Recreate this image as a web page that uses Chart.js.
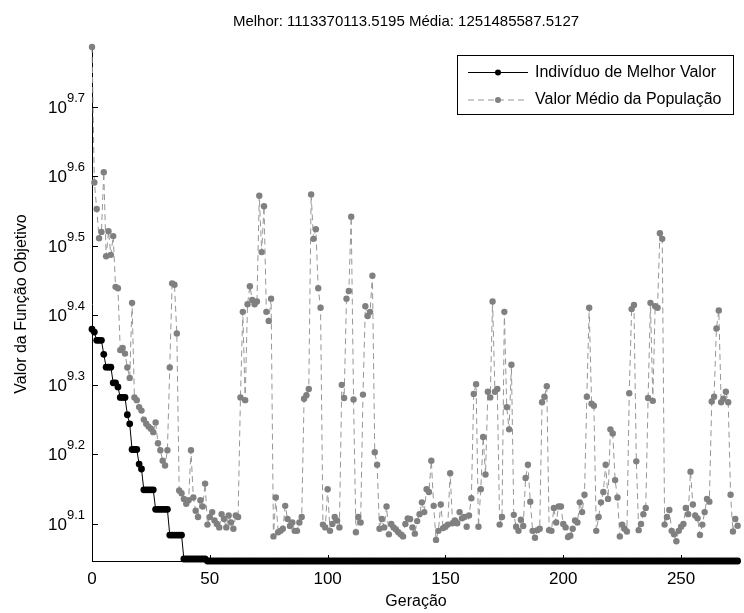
<!DOCTYPE html>
<html lang="pt">
<head>
<meta charset="utf-8">
<title>Evolução do AG</title>
<style>
  html, body { margin: 0; padding: 0; background: #ffffff; overflow: hidden; }
  #quadro { position: relative; width: 744px; height: 613px; }
</style>
<script src="https://cdn.jsdelivr.net/npm/chart.js@4.4.1/dist/chart.umd.min.js"></script>
</head>
<body>
<div id="quadro"><canvas id="grafico" width="744" height="613"></canvas></div>
<script>
// Valores finais informados no título
const melhorFinal = 1113370113.5195;
const mediaFinal = 1251485587.5127;

// log10 do valor da função objetivo do melhor indivíduo, por geração (0..274)
const expMelhor = [
  9.380, 9.376, 9.364, 9.364, 9.364, 9.344, 9.3255, 9.3255, 9.3255, 9.303,
  9.303, 9.297, 9.282, 9.282, 9.282, 9.257, 9.244, 9.207, 9.207, 9.207,
  9.186, 9.179, 9.149, 9.149, 9.149, 9.149, 9.149, 9.121, 9.121, 9.121,
  9.121, 9.121, 9.121, 9.084, 9.084, 9.084, 9.084, 9.084, 9.084, 9.0495,
  9.0495, 9.0495, 9.0495, 9.0495, 9.0495, 9.0495, 9.0495, 9.0495, 9.0495, 9.04664,
  9.04664, 9.04664, 9.04664, 9.04664, 9.04664, 9.04664, 9.04664, 9.04664, 9.04664, 9.04664,
  9.04664, 9.04664, 9.04664, 9.04664, 9.04664, 9.04664, 9.04664, 9.04664, 9.04664, 9.04664,
  9.04664, 9.04664, 9.04664, 9.04664, 9.04664, 9.04664, 9.04664, 9.04664, 9.04664, 9.04664,
  9.04664, 9.04664, 9.04664, 9.04664, 9.04664, 9.04664, 9.04664, 9.04664, 9.04664, 9.04664,
  9.04664, 9.04664, 9.04664, 9.04664, 9.04664, 9.04664, 9.04664, 9.04664, 9.04664, 9.04664,
  9.04664, 9.04664, 9.04664, 9.04664, 9.04664, 9.04664, 9.04664, 9.04664, 9.04664, 9.04664,
  9.04664, 9.04664, 9.04664, 9.04664, 9.04664, 9.04664, 9.04664, 9.04664, 9.04664, 9.04664,
  9.04664, 9.04664, 9.04664, 9.04664, 9.04664, 9.04664, 9.04664, 9.04664, 9.04664, 9.04664,
  9.04664, 9.04664, 9.04664, 9.04664, 9.04664, 9.04664, 9.04664, 9.04664, 9.04664, 9.04664,
  9.04664, 9.04664, 9.04664, 9.04664, 9.04664, 9.04664, 9.04664, 9.04664, 9.04664, 9.04664,
  9.04664, 9.04664, 9.04664, 9.04664, 9.04664, 9.04664, 9.04664, 9.04664, 9.04664, 9.04664,
  9.04664, 9.04664, 9.04664, 9.04664, 9.04664, 9.04664, 9.04664, 9.04664, 9.04664, 9.04664,
  9.04664, 9.04664, 9.04664, 9.04664, 9.04664, 9.04664, 9.04664, 9.04664, 9.04664, 9.04664,
  9.04664, 9.04664, 9.04664, 9.04664, 9.04664, 9.04664, 9.04664, 9.04664, 9.04664, 9.04664,
  9.04664, 9.04664, 9.04664, 9.04664, 9.04664, 9.04664, 9.04664, 9.04664, 9.04664, 9.04664,
  9.04664, 9.04664, 9.04664, 9.04664, 9.04664, 9.04664, 9.04664, 9.04664, 9.04664, 9.04664,
  9.04664, 9.04664, 9.04664, 9.04664, 9.04664, 9.04664, 9.04664, 9.04664, 9.04664, 9.04664,
  9.04664, 9.04664, 9.04664, 9.04664, 9.04664, 9.04664, 9.04664, 9.04664, 9.04664, 9.04664,
  9.04664, 9.04664, 9.04664, 9.04664, 9.04664, 9.04664, 9.04664, 9.04664, 9.04664, 9.04664,
  9.04664, 9.04664, 9.04664, 9.04664, 9.04664, 9.04664, 9.04664, 9.04664, 9.04664, 9.04664,
  9.04664, 9.04664, 9.04664, 9.04664, 9.04664, 9.04664, 9.04664, 9.04664, 9.04664, 9.04664,
  9.04664, 9.04664, 9.04664, 9.04664, 9.04664, 9.04664, 9.04664, 9.04664, 9.04664, 9.04664,
  9.04664, 9.04664, 9.04664, 9.04664, 9.04664
];

// log10 do valor médio da população, por geração (0..274)
const expMedia = [
  9.786, 9.591, 9.553, 9.511, 9.520, 9.606, 9.485, 9.521, 9.487, 9.514,
  9.441, 9.439, 9.350, 9.353, 9.345, 9.325, 9.310, 9.418, 9.282, 9.278,
  9.268, 9.263, 9.250, 9.244, 9.240, 9.237, 9.232, 9.246, 9.216, 9.206,
  9.191, 9.184, 9.206, 9.325, 9.446, 9.444, 9.374, 9.148, 9.144, 9.136,
  9.129, 9.134, 9.206, 9.138, 9.119, 9.110, 9.134, 9.125, 9.158, 9.099,
  9.110, 9.117, 9.105, 9.100, 9.095, 9.114, 9.107, 9.095, 9.112, 9.102,
  9.093, 9.112, 9.110, 9.282, 9.405, 9.278, 9.416, 9.442, 9.422, 9.416,
  9.420, 9.572, 9.491, 9.557, 9.405, 9.392, 9.424, 9.082, 9.138, 9.088,
  9.090, 9.093, 9.126, 9.107, 9.097, 9.102, 9.090, 9.090, 9.102, 9.110,
  9.280, 9.285, 9.294, 9.574, 9.510, 9.524, 9.439, 9.411, 9.099, 9.095,
  9.150, 9.090, 9.100, 9.110, 9.105, 9.095, 9.300, 9.281, 9.424, 9.435,
  9.542, 9.279, 9.088, 9.110, 9.102, 9.286, 9.413, 9.399, 9.405, 9.457,
  9.203, 9.185, 9.093, 9.107, 9.095, 9.125, 9.085, 9.100, 9.095, 9.092,
  9.088, 9.085, 9.082, 9.100, 9.108, 9.107, 9.095, 9.086, 9.104, 9.114,
  9.131, 9.117, 9.150, 9.146, 9.191, 9.126, 9.077, 9.090, 9.128, 9.094,
  9.096, 9.099, 9.173, 9.101, 9.105, 9.101, 9.117, 9.108, 9.110, 9.096,
  9.112, 9.137, 9.287, 9.301, 9.096, 9.150, 9.225, 9.171, 9.290, 9.282,
  9.420, 9.290, 9.294, 9.099, 9.110, 9.405, 9.268, 9.236, 9.329, 9.113,
  9.096, 9.090, 9.106, 9.097, 9.166, 9.185, 9.132, 9.090, 9.080, 9.091,
  9.093, 9.275, 9.283, 9.298, 9.091, 9.090, 9.123, 9.102, 9.125, 9.125,
  9.100, 9.095, 9.081, 9.083, 9.093, 9.105, 9.102, 9.131, 9.117, 9.142,
  9.283, 9.411, 9.273, 9.270, 9.090, 9.110, 9.131, 9.146, 9.185, 9.136,
  9.236, 9.230, 9.163, 9.138, 9.082, 9.099, 9.093, 9.089, 9.288, 9.409,
  9.415, 9.190, 9.091, 9.100, 9.114, 9.123, 9.281, 9.418, 9.277, 9.413,
  9.411, 9.518, 9.510, 9.099, 9.110, 9.120, 9.090, 9.085, 9.075, 9.090,
  9.096, 9.100, 9.123, 9.114, 9.175, 9.128, 9.112, 9.108, 9.084, 9.099,
  9.117, 9.136, 9.132, 9.276, 9.283, 9.381, 9.407, 9.275, 9.280, 9.290,
  9.275, 9.142, 9.089, 9.107, 9.09743
];

// Marcas dos eixos
const ticksX = [0, 50, 100, 150, 200, 250];
const ticksExpY = [9.1, 9.2, 9.3, 9.4, 9.5, 9.6, 9.7];
const limiteX = 275;

const nomeMelhor = 'Indivíduo de Melhor Valor';
const nomeMedia = 'Valor Médio da População';
const rotuloX = 'Geração';
const rotuloY = 'Valor da Função Objetivo';
const titulo = 'Melhor: ' + melhorFinal.toFixed(4) + ' Média: ' + mediaFinal.toFixed(4);

const FONTE = '"Liberation Sans", Arial, Helvetica, sans-serif';
const CINZA = 'rgb(128,128,128)';

const pontosMelhor = expMelhor.map((e, g) => ({ x: g, y: Math.pow(10, e) }));
const pontosMedia = expMedia.map((e, g) => ({ x: g, y: Math.pow(10, e) }));

const yMin = Math.min(...pontosMelhor.map(p => p.y), ...pontosMedia.map(p => p.y));
const yMax = Math.max(...pontosMelhor.map(p => p.y), ...pontosMedia.map(p => p.y));

// Os eixos não reservam espaço: rótulos e marcas são desenhados pelo plugin
function semEspaco(scale) {
  scale.paddingLeft = 0; scale.paddingRight = 0;
  scale.paddingTop = 0; scale.paddingBottom = 0;
  if (scale.isHorizontal()) scale.height = 0; else scale.width = 0;
}

// Eixos no estilo MATLAB: marcas para dentro, rótulos 10^x, títulos e legenda interna
const eixosEstilo = {
  id: 'eixosEstilo',
  afterDraw(chart) {
    const { ctx, chartArea: a, scales: { x, y } } = chart;
    ctx.save();
    ctx.strokeStyle = '#000';
    ctx.lineWidth = 1;
    ctx.beginPath();
    ticksX.forEach(v => {
      const px = Math.round(x.getPixelForValue(v)) + 0.5;
      ctx.moveTo(px, a.bottom);
      ctx.lineTo(px, a.bottom - 6);
    });
    ticksExpY.forEach(e => {
      const py = Math.round(y.getPixelForValue(Math.pow(10, e))) + 0.5;
      ctx.moveTo(a.left, py);
      ctx.lineTo(a.left + 6, py);
    });
    ctx.stroke();

    ctx.fillStyle = '#000';
    // rótulos do eixo x
    ctx.font = '17px ' + FONTE;
    ctx.textAlign = 'center';
    ctx.textBaseline = 'alphabetic';
    ticksX.forEach(v => {
      ctx.fillText(String(v), x.getPixelForValue(v), a.bottom + 23);
    });

    // rótulos do eixo y: 10 com expoente sobrescrito
    ticksExpY.forEach(e => {
      const py = y.getPixelForValue(Math.pow(10, e));
      const exp = e.toFixed(1);
      ctx.font = '13px ' + FONTE;
      const wExp = ctx.measureText(exp).width;
      const xExp = a.left - 7 - wExp;
      ctx.textAlign = 'left';
      ctx.fillText(exp, xExp, py - 5);
      ctx.font = '17px ' + FONTE;
      ctx.textAlign = 'right';
      ctx.fillText('10', xExp, py + 6);
    });

    // título e rótulos dos eixos
    const cx = (a.left + a.right) / 2;
    ctx.font = '15px ' + FONTE;
    ctx.textAlign = 'center';
    ctx.fillText(titulo, cx - 10, 26);
    ctx.font = '16px ' + FONTE;
    ctx.fillText(rotuloX, cx, 606);
    ctx.save();
    ctx.font = '16px ' + FONTE;
    ctx.translate(22, (a.top + a.bottom) / 2);
    ctx.rotate(-Math.PI / 2);
    ctx.textBaseline = 'middle';
    ctx.fillText(rotuloY, 0, 0);
    ctx.restore();

    // legenda
    const lx = a.right - 283, ly = a.top + 8, lw = 276, lh = 59;
    ctx.fillStyle = '#fff';
    ctx.fillRect(lx, ly, lw, lh);
    ctx.strokeStyle = '#000';
    ctx.lineWidth = 1;
    ctx.strokeRect(Math.round(lx) + 0.5, Math.round(ly) + 0.5, lw, lh);

    const linhas = [
      { nome: nomeMelhor, cor: '#000', corLinha: '#000', dash: [], dy: 17.5 },
      { nome: nomeMedia, cor: CINZA, corLinha: 'rgb(150,150,150)', dash: [6, 4], dy: 45 }
    ];
    linhas.forEach(l => {
      const yy = ly + l.dy;
      ctx.strokeStyle = l.corLinha;
      ctx.setLineDash(l.dash);
      ctx.beginPath();
      ctx.moveTo(lx + 11, yy);
      ctx.lineTo(lx + 71, yy);
      ctx.stroke();
      ctx.setLineDash([]);
      ctx.fillStyle = l.cor;
      ctx.beginPath();
      ctx.arc(lx + 41, yy, 3, 0, Math.PI * 2);
      ctx.fill();
      ctx.fillStyle = '#000';
      ctx.font = '16px ' + FONTE;
      ctx.textAlign = 'left';
      ctx.textBaseline = 'middle';
      ctx.fillText(l.nome, lx + 78, yy);
    });
    ctx.restore();
  }
};

new Chart(document.getElementById('grafico'), {
  type: 'line',
  data: {
    datasets: [
      {
        label: nomeMelhor,
        data: pontosMelhor,
        borderColor: '#000',
        borderWidth: 1,
        backgroundColor: '#000',
        pointBackgroundColor: '#000',
        pointBorderWidth: 0,
        pointRadius: 3.4,
        tension: 0,
        clip: false,
        order: 1
      },
      {
        label: nomeMedia,
        data: pontosMedia,
        borderColor: 'rgb(150,150,150)',
        borderWidth: 1,
        borderDash: [6, 4],
        backgroundColor: CINZA,
        pointBackgroundColor: CINZA,
        pointBorderWidth: 0,
        pointRadius: 3.2,
        tension: 0,
        clip: false,
        order: 0
      }
    ]
  },
  options: {
    responsive: false,
    animation: false,
    devicePixelRatio: 1,
    layout: { padding: { left: 92, right: 0, top: 47, bottom: 52 } },
    plugins: { legend: { display: false }, tooltip: { enabled: false }, title: { display: false } },
    scales: {
      x: {
        type: 'linear',
        min: 0,
        max: limiteX,
        ticks: { display: false },
        grid: { display: false },
        border: { display: true, color: '#000', width: 1 },
        afterFit: semEspaco
      },
      y: {
        type: 'logarithmic',
        min: yMin,
        max: yMax,
        ticks: { display: false },
        grid: { display: false },
        border: { display: true, color: '#000', width: 1 },
        afterFit: semEspaco
      }
    }
  },
  plugins: [eixosEstilo]
});
</script>
</body>
</html>
